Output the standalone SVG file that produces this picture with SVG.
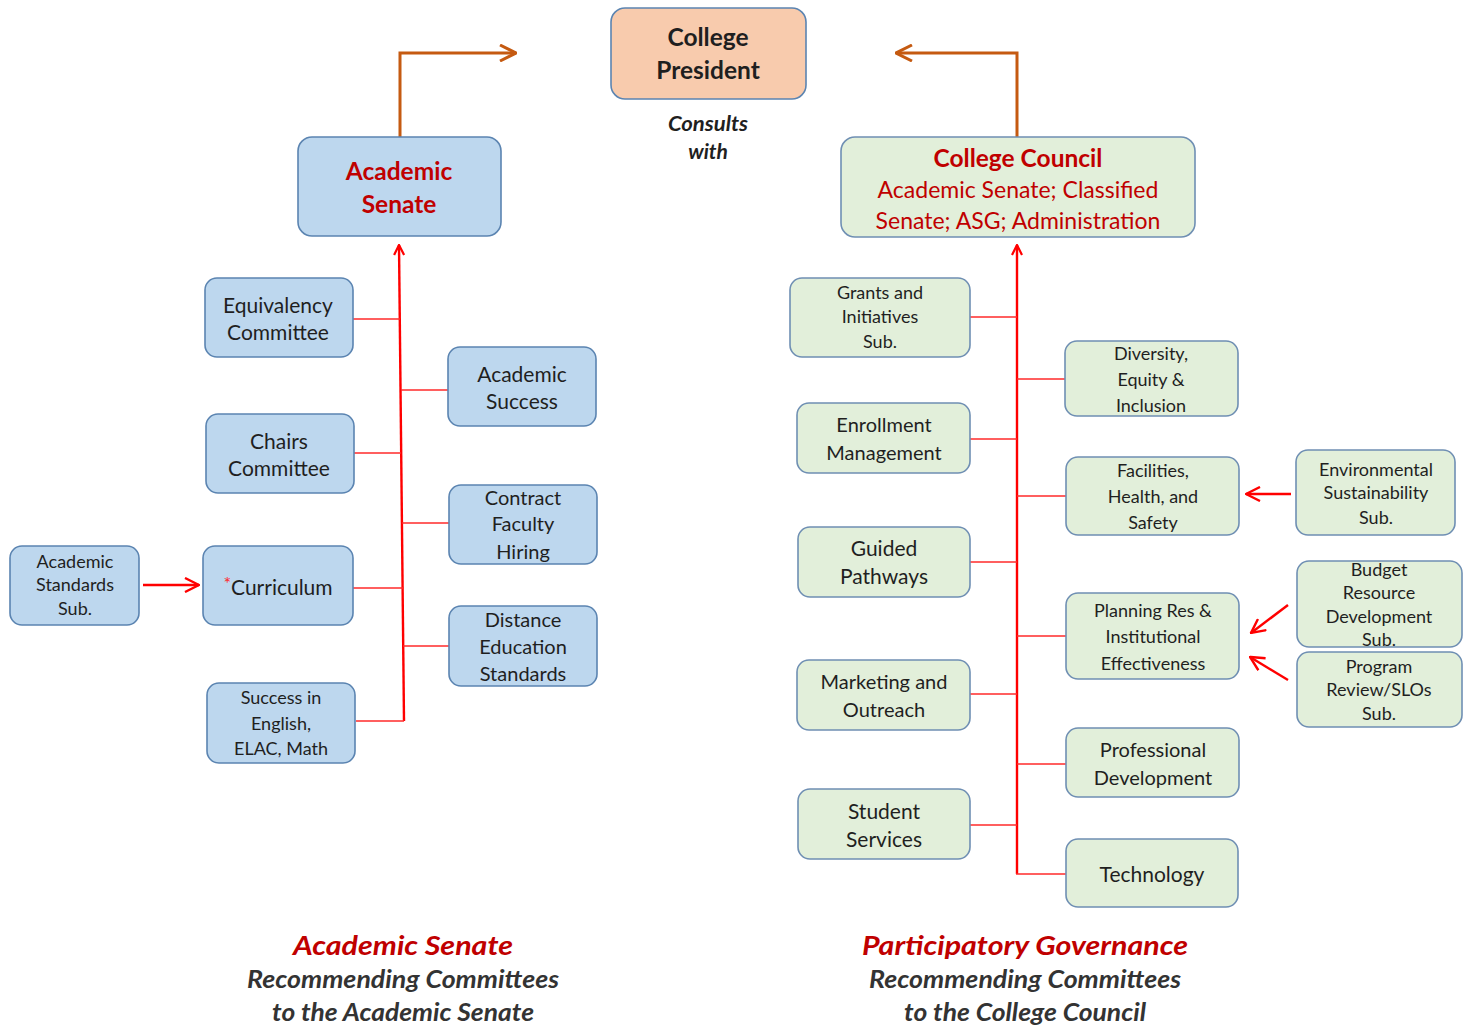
<svg xmlns="http://www.w3.org/2000/svg" width="1470" height="1026" viewBox="0 0 1470 1026">
<style>
text{font-family:Lato,"Open Sans","Liberation Sans",sans-serif;text-anchor:middle;dominant-baseline:central;fill:#1f1f1f}
.b{fill:#bdd7ee;stroke:#5b84b1;stroke-width:1.6}
.g{fill:#e2efda;stroke:#6f8fb3;stroke-width:1.6}
.o{fill:#f8cbad;stroke:#5b84b1;stroke-width:1.6}
.t20{font-size:21px}.t19{font-size:20px}.t17{font-size:18px}
.h{font-size:24.5px;font-weight:bold}
.red{fill:#c00000}
.br{stroke:#ff2a2a;stroke-width:1.6;fill:none}
.tr{stroke:#ff0000;stroke-width:2.4;fill:none}
.ar{stroke:#ff0000;stroke-width:2.4;fill:none}
.or{stroke:#c55a11;stroke-width:3;fill:none}
.ft{font-style:italic;font-weight:bold}
.cap{font-size:25px;fill:#333}
.capr{font-size:27px}
</style>
<defs>
<marker id="ra" viewBox="0 0 12 12" refX="11" refY="6" markerWidth="12" markerHeight="12" markerUnits="userSpaceOnUse" orient="auto"><path d="M1,1 L11,6 L1,11" fill="none" stroke="#ff0000" stroke-width="2.2"/></marker>
<marker id="ra2" viewBox="0 0 16 16" refX="15" refY="8" markerWidth="16" markerHeight="16" markerUnits="userSpaceOnUse" orient="auto"><path d="M1,1 L15,8 L1,15" fill="none" stroke="#ff0000" stroke-width="2.4"/></marker>
<marker id="oa" viewBox="0 0 18 18" refX="17" refY="9" markerWidth="18" markerHeight="18" markerUnits="userSpaceOnUse" orient="auto"><path d="M1,1 L17,9 L1,17" fill="none" stroke="#c55a11" stroke-width="3"/></marker>
</defs>

<g id="connectors">
<path class="or" d="M400,137 V53 H516" marker-end="url(#oa)"/>
<path class="or" d="M1017,137 V53 H896" marker-end="url(#oa)"/>
<line class="tr" x1="404" y1="721" x2="399" y2="245" marker-end="url(#ra)"/>
<line class="br" x1="353" y1="319" x2="400" y2="319"/>
<line class="br" x1="401" y1="390" x2="448" y2="390"/>
<line class="br" x1="354" y1="453" x2="401" y2="453"/>
<line class="br" x1="402" y1="523" x2="449" y2="523"/>
<line class="br" x1="353" y1="588" x2="403" y2="588"/>
<line class="br" x1="403" y1="646" x2="449" y2="646"/>
<line class="br" x1="356" y1="721" x2="404" y2="721"/>
<line class="ar" x1="143" y1="585" x2="199" y2="585" marker-end="url(#ra2)"/>
<line class="tr" x1="1017" y1="874" x2="1017" y2="245" marker-end="url(#ra)"/>
<line class="br" x1="970" y1="317" x2="1017" y2="317"/>
<line class="br" x1="1017" y1="379" x2="1065" y2="379"/>
<line class="br" x1="970" y1="439" x2="1017" y2="439"/>
<line class="br" x1="1017" y1="496" x2="1066" y2="496"/>
<line class="br" x1="970" y1="562" x2="1017" y2="562"/>
<line class="br" x1="1017" y1="636" x2="1066" y2="636"/>
<line class="br" x1="970" y1="694" x2="1017" y2="694"/>
<line class="br" x1="1017" y1="764" x2="1066" y2="764"/>
<line class="br" x1="970" y1="825" x2="1017" y2="825"/>
<line class="br" x1="1016" y1="874" x2="1066" y2="874"/>
<line class="ar" x1="1291" y1="494" x2="1246" y2="494" marker-end="url(#ra2)"/>
<line class="ar" x1="1288" y1="605" x2="1251" y2="633" marker-end="url(#ra2)"/>
<line class="ar" x1="1288" y1="680" x2="1250" y2="657" marker-end="url(#ra2)"/>
</g>

<g id="president"><rect class="o" x="611" y="8" width="195" height="91" rx="14"/>
<text class="h" x="708" y="36">College</text><text class="h" x="708" y="69">President</text></g>
<g id="consults"><text class="ft" x="708" y="122" font-size="21" textLength="80" lengthAdjust="spacingAndGlyphs">Consults</text><text class="ft" x="708" y="150" font-size="21">with</text></g>

<g id="academic-senate"><rect class="b" x="298" y="137" width="203" height="99" rx="14"/>
<text class="h red" x="399" y="170">Academic</text><text class="h red" x="399" y="203">Senate</text></g>

<g id="equivalency"><rect class="b" x="205" y="278" width="148" height="79" rx="12"/>
<text class="t20" x="278" y="304">Equivalency</text><text class="t20" x="278" y="331">Committee</text></g>
<g id="academic-success"><rect class="b" x="448" y="347" width="148" height="79" rx="12"/>
<text class="t20" x="522" y="373">Academic</text><text class="t20" x="522" y="400">Success</text></g>
<g id="chairs"><rect class="b" x="206" y="414" width="148" height="79" rx="12"/>
<text class="t20" x="279" y="440">Chairs</text><text class="t20" x="279" y="467">Committee</text></g>
<g id="contract-faculty"><rect class="b" x="449" y="485" width="148" height="79" rx="12"/>
<text class="t19" x="523" y="497">Contract</text><text class="t19" x="523" y="523">Faculty</text><text class="t19" x="523" y="551">Hiring</text></g>
<g id="academic-standards"><rect class="b" x="10" y="546" width="129" height="79" rx="12"/>
<text class="t17" x="75" y="561">Academic</text><text class="t17" x="75" y="584">Standards</text><text class="t17" x="75" y="608">Sub.</text></g>
<g id="curriculum"><rect class="b" x="203" y="546" width="150" height="79" rx="12"/>
<text class="t20" x="278" y="586"><tspan fill="#ff2a2a" font-size="18" dy="-3">*</tspan><tspan dy="3">Curriculum</tspan></text></g>
<g id="distance-ed"><rect class="b" x="449" y="606" width="148" height="80" rx="12"/>
<text class="t19" x="523" y="619">Distance</text><text class="t19" x="523" y="646">Education</text><text class="t19" x="523" y="673">Standards</text></g>
<g id="success-english"><rect class="b" x="207" y="683" width="148" height="80" rx="12"/>
<text class="t17" x="281" y="697">Success in</text><text class="t17" x="281" y="723">English,</text><text class="t17" x="281" y="748">ELAC, Math</text></g>

<g id="college-council"><rect class="g" x="841" y="137" width="354" height="100" rx="14"/>
<text class="h red" x="1018" y="157">College Council</text>
<text class="red" x="1018" y="189" font-size="23">Academic Senate; Classified</text>
<text class="red" x="1018" y="220" font-size="23">Senate; ASG; Administration</text></g>

<g id="grants"><rect class="g" x="790" y="278" width="180" height="79" rx="12"/>
<text class="t17" x="880" y="292">Grants and</text><text class="t17" x="880" y="316">Initiatives</text><text class="t17" x="880" y="341">Sub.</text></g>
<g id="diversity"><rect class="g" x="1065" y="341" width="173" height="75" rx="12"/>
<text class="t17" x="1151" y="353">Diversity,</text><text class="t17" x="1151" y="379">Equity &amp;</text><text class="t17" x="1151" y="405">Inclusion</text></g>
<g id="enrollment"><rect class="g" x="797" y="403" width="173" height="70" rx="12"/>
<text class="t19" x="884" y="424">Enrollment</text><text class="t19" x="884" y="452">Management</text></g>
<g id="facilities"><rect class="g" x="1066" y="457" width="173" height="78" rx="12"/>
<text class="t17" x="1153" y="470">Facilities,</text><text class="t17" x="1153" y="496">Health, and</text><text class="t17" x="1153" y="522">Safety</text></g>
<g id="environmental"><rect class="g" x="1296" y="450" width="159" height="85" rx="12"/>
<text class="t17" x="1376" y="469">Environmental</text><text class="t17" x="1376" y="492">Sustainability</text><text class="t17" x="1376" y="517">Sub.</text></g>
<g id="guided"><rect class="g" x="798" y="527" width="172" height="70" rx="12"/>
<text class="t20" x="884" y="547">Guided</text><text class="t20" x="884" y="575">Pathways</text></g>
<g id="planning"><rect class="g" x="1066" y="593" width="173" height="86" rx="12"/>
<text class="t17" x="1153" y="610">Planning Res &amp;</text><text class="t17" x="1153" y="636">Institutional</text><text class="t17" x="1153" y="663">Effectiveness</text></g>
<g id="budget"><rect class="g" x="1297" y="561" width="165" height="86" rx="12"/>
<text class="t17" x="1379" y="569">Budget</text><text class="t17" x="1379" y="592">Resource</text><text class="t17" x="1379" y="616">Development</text><text class="t17" x="1379" y="639">Sub.</text></g>
<g id="program-review"><rect class="g" x="1297" y="652" width="165" height="75" rx="12"/>
<text class="t17" x="1379" y="666">Program</text><text class="t17" x="1379" y="689">Review/SLOs</text><text class="t17" x="1379" y="713">Sub.</text></g>
<g id="marketing"><rect class="g" x="797" y="660" width="173" height="70" rx="12"/>
<text class="t19" x="884" y="681">Marketing and</text><text class="t19" x="884" y="709">Outreach</text></g>
<g id="professional"><rect class="g" x="1066" y="728" width="173" height="69" rx="12"/>
<text class="t19" x="1153" y="749">Professional</text><text class="t19" x="1153" y="777">Development</text></g>
<g id="student-services"><rect class="g" x="798" y="789" width="172" height="70" rx="12"/>
<text class="t20" x="884" y="810">Student</text><text class="t20" x="884" y="838">Services</text></g>
<g id="technology"><rect class="g" x="1066" y="839" width="172" height="68" rx="12"/>
<text class="t20" x="1152" y="873">Technology</text></g>

<g id="caption-left">
<text class="ft red capr" x="403" y="944" textLength="220" lengthAdjust="spacingAndGlyphs">Academic Senate</text>
<text class="ft cap" x="403" y="978" textLength="312" lengthAdjust="spacingAndGlyphs">Recommending Committees</text>
<text class="ft cap" x="403" y="1011" textLength="262" lengthAdjust="spacingAndGlyphs">to the Academic Senate</text></g>
<g id="caption-right">
<text class="ft red capr" x="1025" y="944" textLength="326" lengthAdjust="spacingAndGlyphs">Participatory Governance</text>
<text class="ft cap" x="1025" y="978" textLength="312" lengthAdjust="spacingAndGlyphs">Recommending Committees</text>
<text class="ft cap" x="1025" y="1011" textLength="242" lengthAdjust="spacingAndGlyphs">to the College Council</text></g>
</svg>
